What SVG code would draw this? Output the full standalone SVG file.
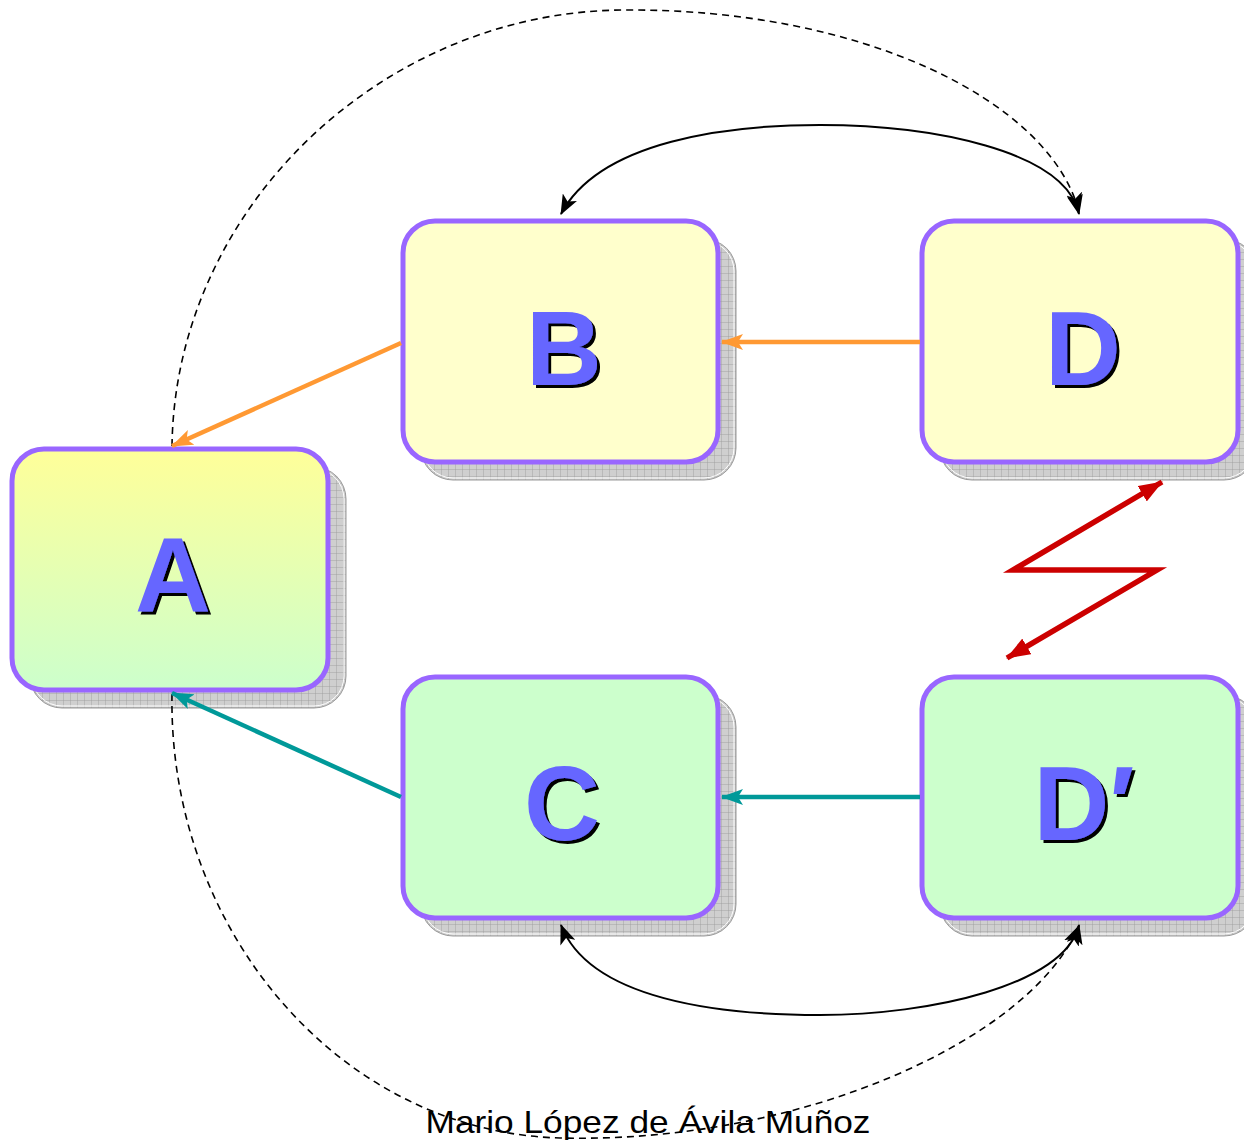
<svg xmlns="http://www.w3.org/2000/svg" width="1244" height="1141" viewBox="0 0 1244 1141">
<defs>
<style>
.box{stroke:#9966FF;stroke-width:5}
.yel{fill:#FFFFCC}
.grn{fill:#CCFFCC}
.shadow{fill:url(#grid);stroke:#999999;stroke-width:1}
.shin{fill:none;stroke:#FFFFFF;stroke-width:1}
.lbl{font-family:"Liberation Sans",Arial,sans-serif;font-weight:bold;font-size:105px;text-anchor:middle;fill:#6666FF;filter:url(#ts)}
.org{stroke:#FF9933;stroke-width:4.5;fill:none}
.teal{stroke:#009999;stroke-width:4.5;fill:none}
.red{stroke:#CC0000;stroke-width:5.5;fill:none;stroke-linejoin:miter}
.blk{stroke:#000000;stroke-width:2;fill:none}
.dash{stroke:#000000;stroke-width:1.6;fill:none;stroke-dasharray:7,5}
</style>
<filter id="ts" x="-20%" y="-20%" width="140%" height="140%">
<feOffset in="SourceAlpha" dx="3" dy="3" result="o"/>
<feMerge><feMergeNode in="o"/><feMergeNode in="SourceGraphic"/></feMerge>
</filter>
<pattern id="grid" width="7" height="7" patternUnits="userSpaceOnUse">
<rect width="7" height="7" fill="#CFCFCF"/>
<path d="M0 0H7M0 0V7" stroke="#999999" stroke-width="0.8"/>
</pattern>
<linearGradient id="gA" x1="0" y1="0" x2="0" y2="1">
<stop offset="0" stop-color="#FFFF99"/>
<stop offset="1" stop-color="#CCFFCC"/>
</linearGradient>
<marker id="aOrg" markerWidth="22" markerHeight="16" refX="21" refY="8" orient="auto" markerUnits="userSpaceOnUse"><path d="M0,0 L22,8 L0,16 L5,8 Z" fill="#FF9933"/></marker>
<marker id="aTeal" markerWidth="22" markerHeight="16" refX="21" refY="8" orient="auto" markerUnits="userSpaceOnUse"><path d="M0,0 L22,8 L0,16 L5,8 Z" fill="#009999"/></marker>
<marker id="aRed" markerWidth="24" markerHeight="18" refX="23" refY="9" orient="auto" markerUnits="userSpaceOnUse"><path d="M0,0 L24,9 L0,18 Z" fill="#CC0000"/></marker>
<marker id="aRedS" markerWidth="24" markerHeight="18" refX="1" refY="9" orient="auto" markerUnits="userSpaceOnUse"><path d="M24,0 L0,9 L24,18 Z" fill="#CC0000"/></marker>
<marker id="aBlk" markerWidth="20" markerHeight="16" refX="19" refY="8" orient="auto" markerUnits="userSpaceOnUse"><path d="M0,0 L20,8 L0,16 L5,8 Z" fill="#000000"/></marker>
<marker id="aBlkS" markerWidth="20" markerHeight="16" refX="1" refY="8" orient="auto" markerUnits="userSpaceOnUse"><path d="M20,0 L0,8 L20,16 L15,8 Z" fill="#000000"/></marker>
</defs>
<rect width="1244" height="1141" fill="#FFFFFF"/>

<g id="nodeA">
<rect class="shadow" x="30" y="467" width="316" height="241" rx="32"/>
<rect class="shin" x="32" y="469" width="312" height="237" rx="30"/>
<rect class="box" x="12" y="449" width="316" height="241" rx="32" fill="url(#gA)"/>
<text class="lbl" x="173" y="612">A</text>
</g>

<g id="nodeB">
<rect class="shadow" x="421" y="239" width="315" height="241" rx="32"/>
<rect class="shin" x="423" y="241" width="311" height="237" rx="30"/>
<rect class="box yel" x="403" y="221" width="315" height="241" rx="32"/>
<text class="lbl" x="564" y="385">B</text>
</g>

<g id="nodeD">
<rect class="shadow" x="940" y="239" width="316" height="241" rx="32"/>
<rect class="shin" x="942" y="241" width="312" height="237" rx="30"/>
<rect class="box yel" x="922" y="221" width="316" height="241" rx="32"/>
<text class="lbl" x="1083" y="385">D</text>
</g>

<g id="nodeC">
<rect class="shadow" x="421" y="695" width="315" height="241" rx="32"/>
<rect class="shin" x="423" y="697" width="311" height="237" rx="30"/>
<rect class="box grn" x="403" y="677" width="315" height="241" rx="32"/>
<text class="lbl" x="562" y="840">C</text>
</g>

<g id="nodeDp">
<rect class="shadow" x="940" y="695" width="316" height="241" rx="32"/>
<rect class="shin" x="942" y="697" width="312" height="237" rx="30"/>
<rect class="box grn" x="922" y="677" width="316" height="241" rx="32"/>
<text class="lbl" x="1084" y="840">D′</text>
</g>

<g id="connectors">
<path class="dash" d="M172,446 C175,210 380,12 623,10 C860,8 1050,100 1079,212" marker-end="url(#aBlk)"/>
<path class="dash" d="M172,694 C168,930 340,1132 560,1138 C800,1144 1030,1040 1079,926" marker-end="url(#aBlk)"/>
<path class="blk" d="M561,214 C600,140 730,125 820,125 C930,125 1065,150 1079,214" marker-start="url(#aBlkS)" marker-end="url(#aBlk)"/>
<path class="blk" d="M561,925 C590,1000 720,1015 820,1015 C930,1015 1065,985 1079,925" marker-start="url(#aBlkS)" marker-end="url(#aBlk)"/>
<line class="org" x1="920" y1="342" x2="722" y2="342" marker-end="url(#aOrg)"/>
<line class="org" x1="401" y1="343" x2="172" y2="446" marker-end="url(#aOrg)"/>
<line class="teal" x1="920" y1="797" x2="722" y2="797" marker-end="url(#aTeal)"/>
<line class="teal" x1="401" y1="797" x2="172" y2="693" marker-end="url(#aTeal)"/>
<path class="red" d="M1007,658 L1157,570 L1013,570 L1162,482" marker-start="url(#aRedS)" marker-end="url(#aRed)"/>
</g>

<text x="648" y="1133" font-family="'Liberation Sans',Arial,sans-serif" font-size="32" text-anchor="middle" textLength="445" lengthAdjust="spacingAndGlyphs" fill="#000000">Mario López de Ávila Muñoz</text>
</svg>
